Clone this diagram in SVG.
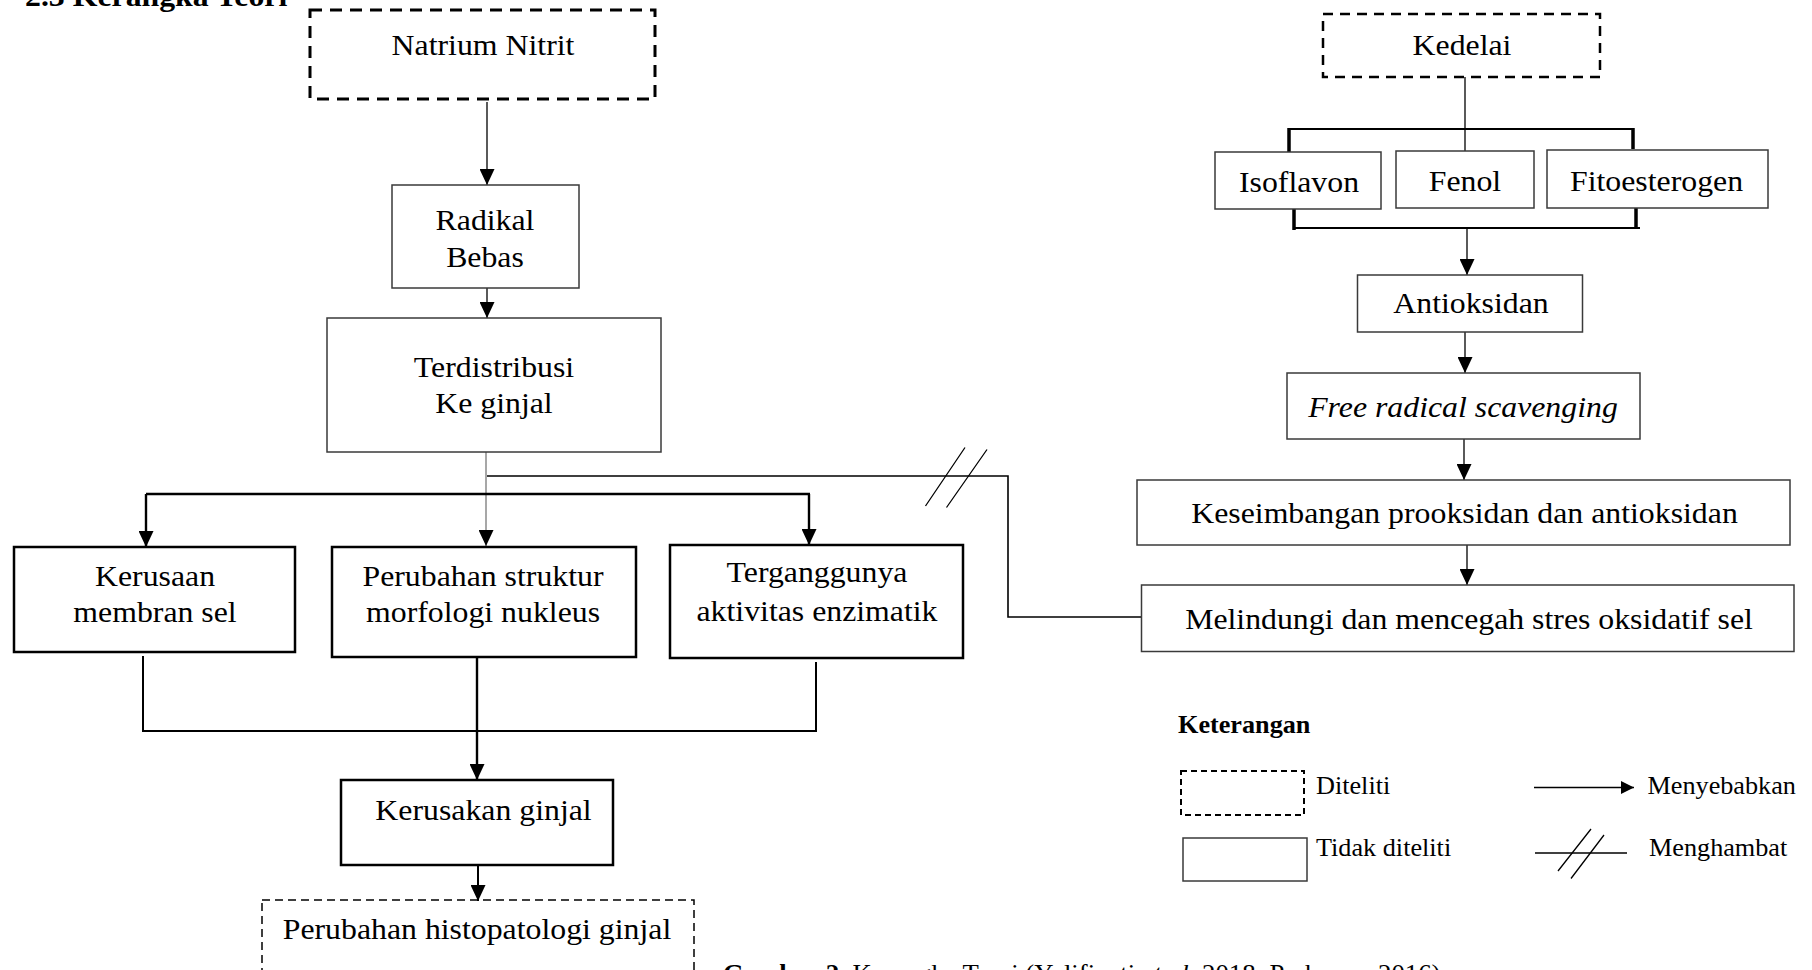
<svg xmlns="http://www.w3.org/2000/svg" width="1812" height="970" viewBox="0 0 1812 970">
<style>
text{font-family:"Liberation Serif","Times New Roman",serif;fill:#000}
.t{font-size:30px;text-anchor:middle}
.lg{font-size:24.5px}
.b{font-weight:bold}
.it{font-style:italic}
.box{fill:#fff;stroke:#3a3a3a;stroke-width:1.5}
.bx{fill:#fff;stroke:#000;stroke-width:2.5}
.dash1{fill:none;stroke:#000;stroke-width:3;stroke-dasharray:12 8}
.dash2{fill:none;stroke:#000;stroke-width:2.5;stroke-dasharray:10 7}
.dash3{fill:none;stroke:#000;stroke-width:1.5;stroke-dasharray:8 5}
.dash4{fill:none;stroke:#000;stroke-width:2;stroke-dasharray:6 4}
.ln{fill:none;stroke:#000;stroke-width:1.3}
.grey{fill:none;stroke:#8a8a8a;stroke-width:1.5}
.thk{fill:none;stroke:#000;stroke-width:2.4}
.tick{fill:none;stroke:#000;stroke-width:3.5}
</style>
<defs>
<marker id="ah" viewBox="0 0 16 15" refX="16" refY="7.5" markerWidth="16" markerHeight="15" markerUnits="userSpaceOnUse" orient="auto">
<path d="M0,0 L16,7.5 L0,15 Z" fill="#000"/>
</marker>
<marker id="ahs" viewBox="0 0 13 13" refX="13" refY="6.5" markerWidth="13" markerHeight="13" markerUnits="userSpaceOnUse" orient="auto">
<path d="M0,0 L13,6.5 L0,13 Z" fill="#000"/>
</marker>
</defs>
<rect width="1812" height="970" fill="#fff"/>

<text class="b" style="font-size:30px" transform="translate(25 6) scale(1.06 1)">2.3 Kerangka Teori</text>

<g id="connectors">
<path class="ln" d="M487,102 V185" marker-end="url(#ah)"/>
<path class="ln" d="M487,288 V318" marker-end="url(#ah)"/>
<path class="grey" d="M486,452 V546" marker-end="url(#ah)"/>
<path class="thk" d="M146,494 H810"/>
<path class="thk" d="M146,494 V547" marker-end="url(#ah)"/>
<path class="thk" d="M809,494 V545" marker-end="url(#ah)"/>
<path class="ln" style="stroke-width:1.6" d="M487,476 H1008 V617 H1141.5"/>
<path class="ln" d="M925.5,506 L965,447.5 M946.5,507.5 L987,449.5"/>
<path class="thk" style="stroke-width:2" d="M143,656 V731 H816 V662"/>
<path class="thk" d="M477,657 V780" marker-end="url(#ah)"/>
<path class="thk" style="stroke-width:2" d="M478,865 V901" marker-end="url(#ah)"/>
<path class="ln" d="M1465,77 V151"/>
<path class="thk" style="stroke-width:2" d="M1288,129 H1634"/>
<path class="tick" d="M1289,128 V152 M1633,128 V149"/>
<path class="thk" style="stroke-width:2" d="M1293,228 H1640"/>
<path class="tick" d="M1294,208 V230 M1636,204 V227"/>
<path class="ln" d="M1467,228 V275" marker-end="url(#ah)"/>
<path class="ln" d="M1465,332 V373" marker-end="url(#ah)"/>
<path class="ln" d="M1464,439 V480" marker-end="url(#ah)"/>
<path class="ln" d="M1467,545 V585" marker-end="url(#ah)"/>
</g>

<g id="natrium-nitrit">
<rect class="dash1" x="310" y="10" width="345" height="89"/>
<text class="t" transform="translate(483 55) scale(1.06 1)">Natrium Nitrit</text>
</g>
<g id="radikal-bebas">
<rect class="box" x="392" y="185" width="187" height="103"/>
<text class="t" transform="translate(485 0) scale(1.06 1)"><tspan x="0" y="230">Radikal</tspan><tspan x="0" y="267">Bebas</tspan></text>
</g>
<g id="terdistribusi">
<rect class="box" x="327" y="318" width="334" height="134"/>
<text class="t" transform="translate(494 0) scale(1.06 1)"><tspan x="0" y="377">Terdistribusi</tspan><tspan x="0" y="413">Ke ginjal</tspan></text>
</g>
<g id="kerusaan-membran">
<rect class="bx" x="14" y="547" width="281" height="105"/>
<text class="t" transform="translate(155 0) scale(1.06 1)"><tspan x="0" y="586">Kerusaan</tspan><tspan x="0" y="622.5">membran sel</tspan></text>
</g>
<g id="perubahan-struktur">
<rect class="bx" x="332" y="547" width="304" height="110"/>
<text class="t" transform="translate(483 0) scale(1.06 1)"><tspan x="0" y="586">Perubahan struktur</tspan><tspan x="0" y="622.5">morfologi nukleus</tspan></text>
</g>
<g id="terganggunya">
<rect class="bx" x="670" y="545" width="293" height="113"/>
<text class="t" transform="translate(817 0) scale(1.06 1)"><tspan x="0" y="582">Terganggunya</tspan><tspan x="0" y="621">aktivitas enzimatik</tspan></text>
</g>
<g id="kerusakan-ginjal">
<rect class="bx" x="341" y="780" width="272" height="85"/>
<text class="t" transform="translate(483.5 820) scale(1.06 1)">Kerusakan ginjal</text>
</g>
<g id="histopatologi">
<rect class="dash3" x="262" y="900" width="432" height="100"/>
<text class="t" transform="translate(477 939) scale(1.06 1)">Perubahan histopatologi ginjal</text>
</g>

<g id="kedelai">
<rect class="dash2" x="1323" y="14" width="277" height="63"/>
<text class="t" transform="translate(1462 55) scale(1.06 1)">Kedelai</text>
</g>
<g id="isoflavon">
<rect class="box" x="1215" y="152" width="166" height="57"/>
<text class="t" transform="translate(1299 192) scale(1.06 1)">Isoflavon</text>
</g>
<g id="fenol">
<rect class="box" x="1396" y="151" width="138" height="57"/>
<text class="t" transform="translate(1465 191) scale(1.06 1)">Fenol</text>
</g>
<g id="fitoesterogen">
<rect class="box" x="1547" y="150" width="221" height="58"/>
<text class="t" transform="translate(1656.5 191) scale(1.06 1)">Fitoesterogen</text>
</g>
<g id="antioksidan">
<rect class="box" x="1357.5" y="275" width="225" height="57"/>
<text class="t" transform="translate(1471 313) scale(1.06 1)">Antioksidan</text>
</g>
<g id="free-radical">
<rect class="box" x="1287" y="373" width="353" height="66"/>
<text class="t it" transform="translate(1463 417) scale(1.06 1)">Free radical scavenging</text>
</g>
<g id="keseimbangan">
<rect class="box" x="1137" y="480" width="653" height="65"/>
<text class="t" transform="translate(1464.5 523) scale(1.06 1)">Keseimbangan prooksidan dan antioksidan</text>
</g>
<g id="melindungi">
<rect class="box" x="1141.5" y="585" width="652.5" height="66.5"/>
<text class="t" transform="translate(1469 629) scale(1.06 1)">Melindungi dan mencegah stres oksidatif sel</text>
</g>

<g id="legend">
<text class="lg b" transform="translate(1178 733) scale(1.07 1)">Keterangan</text>
<rect class="dash4" x="1181" y="771" width="123" height="44"/>
<text class="lg" transform="translate(1316 794) scale(1.07 1)">Diteliti</text>
<rect class="box" x="1183" y="838" width="124" height="43"/>
<text class="lg" transform="translate(1316 856) scale(1.07 1)">Tidak diteliti</text>
<path class="ln" style="stroke-width:1.6" d="M1534,787.5 H1634" marker-end="url(#ahs)"/>
<text class="lg" transform="translate(1647.5 794) scale(1.07 1)">Menyebabkan</text>
<path class="ln" style="stroke-width:1.6" d="M1535,853 H1627"/>
<path class="ln" d="M1558,871 L1591,829 M1571,878.5 L1604,835"/>
<text class="lg" transform="translate(1649 856) scale(1.07 1)">Menghambat</text>
</g>

<text style="font-size:25px" transform="translate(723 982) scale(1.07 1)"><tspan class="b">Gambar 2.</tspan> Kerangka Teori (Yulifianti <tspan class="it">et al.</tspan> 2018; Prabowo, 2016)</text>
</svg>
